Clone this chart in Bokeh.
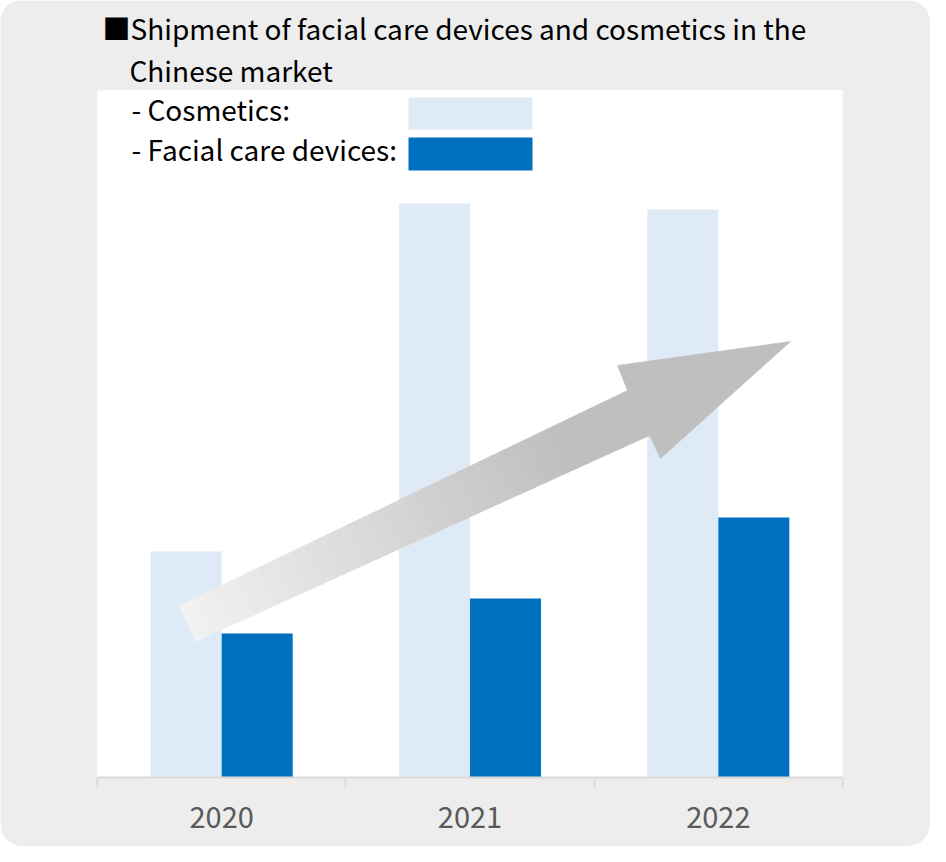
import numpy as np
from bokeh.plotting import figure
from bokeh.models import Range1d, FixedTicker, Label, Title
from bokeh.embed import file_html
from bokeh.resources import INLINE

# ---------------- data ----------------
years = ["2020", "2021", "2022"]
cosmetics = [226, 574, 568]          # relative shipment index
devices = [144, 179, 260]
title_line1 = "■Shipment of facial care devices and cosmetics in the"
title_line2 = "Chinese market"
legend_labels = ["- Cosmetics:", "- Facial care devices:"]

# ---------------- styles ----------------
LIGHT = "#DEEAF6"
DARK = "#0070C0"
PANEL = "#EDEDED"
AXIS = "#D9D9D9"
FONT = "Noto Sans CJK JP"
FS = "28px"

FW, FH = 745, 687          # frame size in px
LEFT, TOP = 97, 90         # frame offset inside the figure
BAR_W = 0.286

p = figure(frame_width=FW, frame_height=FH,
           min_border_left=LEFT, min_border_right=88,
           min_border_top=TOP, min_border_bottom=69,
           x_range=Range1d(0, 3), y_range=Range1d(0, FH),
           output_backend="svg", toolbar_location=None,
           background_fill_color="white", border_fill_color=PANEL,
           outline_line_color=None)
p.styles = {"border-radius": "22px", "overflow": "hidden"}

p.xgrid.visible = False
p.ygrid.visible = False
p.yaxis.visible = False

# ---------------- title (above frame) ----------------
p.add_layout(Title(text=title_line2, align="left", offset=32, standoff=1,
                   text_font=FONT, text_font_size=FS, text_font_style="normal",
                   text_color="black"), "above")
p.add_layout(Title(text=title_line1, align="left", offset=5, standoff=0,
                   text_font=FONT, text_font_size=FS, text_font_style="normal",
                   text_color="black"), "above")

# ---------------- helper: reference px -> data ----------------
def px_to_data(px, py):
    # reference page coords; frame top-left at (105, 98)
    return (px - 105) / FW * 3.0, (98 + FH) - py

# ---------------- bars ----------------
centers = np.arange(len(years)) + 0.5
p.vbar(x=centers - BAR_W / 2, top=cosmetics, width=BAR_W, bottom=0,
       fill_color=LIGHT, line_color=None)
p.vbar(x=centers + BAR_W / 2, top=devices, width=BAR_W, bottom=0,
       fill_color=DARK, line_color=None)

# ---------------- gradient arrow (decoration) ----------------
arrow_px = [(187, 613), (635, 398), (625, 373), (798, 349),
            (668, 466), (657, 443), (203, 649)]
tail = np.array([195.0, 631.0])
tip = np.array([798.0, 349.0])
d = tip - tail
L = np.linalg.norm(d)
u = d / L

def clip(poly, f):
    out = []
    n = len(poly)
    for i in range(n):
        a = poly[i]
        b = poly[(i + 1) % n]
        fa, fb = f(a), f(b)
        if fa >= 0:
            out.append(a)
        if (fa >= 0) != (fb >= 0):
            t = fa / (fa - fb)
            out.append((a[0] + t * (b[0] - a[0]), a[1] + t * (b[1] - a[1])))
    return out

def proj(pt):
    return ((pt[0] - tail[0]) * u[0] + (pt[1] - tail[1]) * u[1]) / L

c0 = np.array([0xF2, 0xF2, 0xF2], dtype=float)
c1 = np.array([0xBF, 0xBF, 0xBF], dtype=float)
N = 60
xs_list, ys_list, cols = [], [], []
edges = np.linspace(-0.05, 1.05, N + 1)
for i in range(N):
    t0, t1 = edges[i], edges[i + 1]
    poly = clip(arrow_px, lambda pt, t0=t0: proj(pt) - t0)
    if len(poly) < 3:
        continue
    poly = clip(poly, lambda pt, t1=t1: t1 + 0.002 - proj(pt))
    if len(poly) < 3:
        continue
    tm = min(max((t0 + t1) / 2 / 0.62, 0.0), 1.0)
    c = c0 + (c1 - c0) * tm
    cols.append("#%02x%02x%02x" % tuple(int(round(v)) for v in c))
    dx, dy = zip(*[px_to_data(*q) for q in poly])
    xs_list.append(list(dx))
    ys_list.append(list(dy))
p.patches(xs=xs_list, ys=ys_list, fill_color=cols, line_color=cols, line_width=0.6)

# ---------------- legend (inside frame) ----------------
lx0, _ = px_to_data(416, 0)
lx1, _ = px_to_data(540, 0)
_, c_top = px_to_data(0, 105)
_, c_bot = px_to_data(0, 137)
_, d_top = px_to_data(0, 145)
_, d_bot = px_to_data(0, 178)
p.quad(left=[lx0, lx0], right=[lx1, lx1], top=[c_top, d_top], bottom=[c_bot, d_bot],
       fill_color=[LIGHT, DARK], line_color=None)

tx, _ = px_to_data(139, 0)
for lab, mid in zip(legend_labels, [116, 156]):
    _, ty = px_to_data(0, mid)
    p.add_layout(Label(x=tx, y=ty, text=lab, text_font=FONT, text_font_size=FS,
                       text_color="black", text_baseline="middle"))

# ---------------- x axis ----------------
ax = p.xaxis[0]
ax.ticker = FixedTicker(ticks=list(centers), minor_ticks=[0, 1, 2, 3])
ax.major_label_overrides = {float(c): y for c, y in zip(centers, years)}
ax.axis_line_color = AXIS
ax.axis_line_width = 2
ax.major_tick_line_color = None
ax.major_tick_in = 0
ax.major_tick_out = 0
ax.minor_tick_line_color = AXIS
ax.minor_tick_line_width = 2
ax.minor_tick_in = 0
ax.minor_tick_out = 10
ax.major_label_text_font = FONT
ax.major_label_text_font_size = "29px"
ax.major_label_text_color = "#595959"
ax.major_label_standoff = 19

open("out.html", "w").write(file_html(p, INLINE))
